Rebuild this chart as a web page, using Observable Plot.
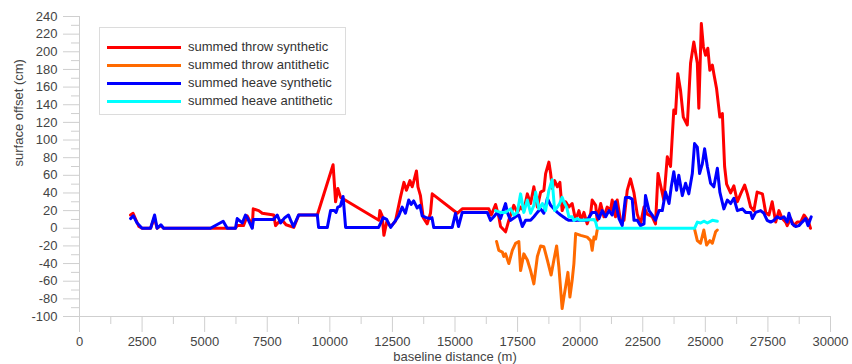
<!DOCTYPE html>
<html>
<head>
<meta charset="utf-8">
<script src="https://cdn.jsdelivr.net/npm/d3@7"></script>
<script src="https://cdn.jsdelivr.net/npm/@observablehq/plot@0.6"></script>
<style>
  html, body { margin: 0; padding: 0; background: #fff; }
  #wrap { position: relative; width: 852px; height: 364px; font-family: "Liberation Sans", Arial, sans-serif; }
  #legend { position: absolute; left: 99px; top: 27px; width: 247px; height: 88px; border: 1px solid #dcdcdc; background: #fff; box-sizing: border-box; }
  .row { position: absolute; left: 0; height: 18px; width: 100%; }
  .sw { position: absolute; left: 7px; top: 8px; width: 74px; height: 3px; }
  .lab { position: absolute; left: 88px; top: 1px; font-size: 13px; color: #333; white-space: nowrap; line-height: 16px; }
</style>
</head>
<body>
<div id="wrap">
  <div id="chart"></div>
  <div id="legend"></div>
</div>
<script>
// ---- data: [baseline distance (m), offset (cm)] ----
const throwSynthetic = [[2040,15],[2140,17],[2370,2],[2500,0],[2840,0],[2990,12],[3100,0],[3250,3],[3360,0],[5700,0],[6230,0],[6300,3],[6550,3],[6700,14],[6850,6],[6900,1],[6940,22],[7160,20],[7300,17],[7760,15],[7830,3],[7960,7],[8100,9],[8250,4],[8560,1],[8760,15],[9500,15],[10130,72],[10230,30],[10320,45],[10430,35],[10490,34],[11960,9],[12000,20],[12090,14],[12160,-8],[12270,7],[12430,2],[12620,8],[12820,35],[12960,52],[13060,43],[13200,54],[13290,47],[13360,54],[13460,65],[13520,47],[13620,37],[13730,12],[13890,5],[14020,17],[14090,39],[15090,17],[15290,22],[16350,22],[16450,15],[16620,27],[16750,13],[16820,2],[17020,-4],[17150,9],[17350,26],[17490,18],[17620,24],[17750,20],[17890,39],[18020,28],[18150,47],[18290,24],[18420,41],[18550,43],[18620,62],[18750,75],[18820,62],[18890,45],[18980,54],[19090,47],[19190,52],[19280,20],[19420,30],[19550,24],[19680,28],[19820,9],[19950,20],[20040,9],[20150,18],[20280,5],[20420,17],[20480,32],[20620,26],[20680,9],[20820,28],[20950,13],[21080,24],[21210,20],[21280,32],[21410,13],[21480,32],[21610,9],[21750,9],[21880,43],[22010,56],[22150,40],[22280,16],[22410,5],[22550,24],[22680,16],[22880,13],[23010,5],[23110,62],[23210,49],[23340,32],[23480,81],[23610,70],[23740,134],[23810,130],[23900,175],[24010,156],[24120,126],[24280,117],[24410,187],[24540,211],[24680,187],[24740,136],[24840,232],[24920,206],[25010,196],[25100,204],[25180,179],[25280,185],[25340,175],[25450,158],[25580,126],[25680,130],[25770,70],[25850,50],[26010,40],[26140,48],[26280,30],[26410,39],[26570,49],[26680,39],[26810,24],[26940,20],[27070,41],[27280,39],[27410,18],[27540,15],[27670,30],[27810,7],[27940,20],[28070,11],[28210,7],[28270,3],[28410,11],[28540,3],[28670,7],[28810,7],[28940,15],[29100,9],[29200,0]];

const throwAntitheticA = [[16660,-15],[16750,-25],[16890,-27],[16950,-32],[17020,-29],[17150,-40],[17290,-25],[17420,-17],[17550,-15],[17620,-48],[17750,-29],[17890,-36],[18020,-48],[18150,-63],[18290,-32],[18420,-20],[18550,-21],[18690,-36],[18840,-53],[18950,-36],[19060,-20],[19150,-44],[19280,-91],[19350,-78],[19420,-66],[19510,-50],[19590,-78],[19680,-59],[19750,-40],[19820,-6],[20020,-8],[20280,-10],[20420,-14],[20480,-25],[20550,-10],[20620,-12],[20680,-2]];
const throwAntitheticB = [[24570,-1],[24680,-14],[24810,-17],[24940,-2],[25050,-19],[25180,-14],[25280,-17],[25410,-4],[25480,-2]];

const heaveSynthetic = [[2040,11],[2150,14],[2300,6],[2500,0],[2840,0],[3000,15],[3100,0],[3250,4],[3360,0],[5230,0],[5740,8],[5900,0],[6230,0],[6300,11],[6500,6],[6630,15],[6700,12],[6900,0],[6950,10],[7750,10],[7900,15],[8030,6],[8200,12],[8350,15],[8450,8],[8550,2],[8750,15],[9500,15],[9550,1],[9900,1],[10030,20],[10180,20],[10250,18],[10320,24],[10420,25],[10530,36],[10630,1],[11950,1],[12130,12],[12270,10],[12430,1],[12630,9],[12750,14],[12890,24],[13020,17],[13150,32],[13250,27],[13350,31],[13490,23],[13600,26],[13690,14],[13850,12],[14020,11],[14080,12],[14150,1],[14890,1],[15020,17],[15140,2],[15290,18],[16290,18],[16420,9],[16550,13],[16690,18],[16820,11],[17020,28],[17090,18],[17220,9],[17420,13],[17550,15],[17690,2],[17820,9],[18020,9],[18150,13],[18290,18],[18420,22],[18550,17],[18690,34],[18820,26],[18950,22],[19090,18],[19220,15],[19420,11],[19550,9],[20280,9],[20480,18],[20620,18],[20750,11],[20880,20],[21020,13],[21150,20],[21280,15],[21410,30],[21550,11],[21680,3],[21810,35],[21950,35],[22080,33],[22150,9],[22280,9],[22410,3],[22550,5],[22610,37],[22750,20],[22880,15],[23010,9],[23150,20],[23280,20],[23410,41],[23550,28],[23640,47],[23740,64],[23850,43],[23940,60],[24080,37],[24210,51],[24340,39],[24480,62],[24570,96],[24680,92],[24770,62],[24880,73],[24970,90],[25080,70],[25210,51],[25340,47],[25480,68],[25580,41],[25740,22],[25880,32],[26010,28],[26140,34],[26280,20],[26480,22],[26610,18],[26810,18],[26880,11],[27010,18],[27210,20],[27340,17],[27470,9],[27610,7],[27740,9],[27870,13],[28010,11],[28140,13],[28270,7],[28340,17],[28470,5],[28610,2],[28740,3],[28870,7],[29010,11],[29100,3],[29230,13]];

const heaveAntithetic = [[16620,20],[16820,18],[17020,18],[17220,22],[17350,15],[17490,18],[17620,39],[17750,18],[17890,32],[18020,17],[18150,26],[18220,41],[18350,22],[18490,28],[18620,20],[18750,43],[18880,55],[18980,20],[19090,24],[19180,28],[19280,35],[19350,30],[19460,24],[19550,13],[19680,13],[19750,9],[19880,11],[20020,9],[20550,10],[20620,7],[20680,0],[24570,0],[24680,7],[24810,6],[24940,8],[25080,6],[25280,9],[25480,8]];

const seriesNames = ["summed throw synthetic","summed throw antithetic","summed heave synthetic","summed heave antithetic"];
const seriesColors = ["#ff0000","#ff6a00","#0000ff","#00ffff"];

const xTicks = d3.range(0, 30001, 2500);
const xMinorTicks = d3.range(1250, 30000, 2500);
const yTicks = d3.range(-100, 241, 20);
const yMinorTicks = d3.range(-90, 240, 20);

const xTitle = "baseline distance (m)";
const yTitle = "surface offset (cm)";

// ---- chart ----
const lineOpts = (color) => ({x: d => d[0], y: d => d[1], stroke: color, strokeWidth: 3, strokeLinejoin: "round", strokeLinecap: "round"});
const axisGray = "#cfcfcf";

const chart = Plot.plot({
  width: 852,
  height: 364,
  marginLeft: 79,
  marginRight: 22,
  marginTop: 16,
  marginBottom: 48,
  x: {domain: [0, 30000]},
  y: {domain: [-100, 240]},
  style: {fontFamily: "'Liberation Sans', Arial, sans-serif", fontSize: "13px", background: "#fff", color: "#444"},
  marks: [
    Plot.axisX(xMinorTicks, {tickSize: 8, text: null, stroke: axisGray, label: null}),
    Plot.axisX(xTicks, {tickSize: 16, tickPadding: 4, stroke: axisGray, fill: "#444", tickFormat: d => String(d), label: null}),
    Plot.axisY(yMinorTicks, {tickSize: 8, text: null, stroke: axisGray, label: null}),
    Plot.axisY(yTicks, {tickSize: 16, tickPadding: 6, stroke: axisGray, fill: "#444", tickFormat: d => String(d), label: null}),
    Plot.ruleX([0], {stroke: axisGray}),
    Plot.ruleY([-100], {stroke: axisGray}),
    Plot.text([xTitle], {frameAnchor: "bottom", dy: 40, lineAnchor: "middle", fill: "#444"}),
    Plot.text([yTitle], {frameAnchor: "left", dx: -61, rotate: -90, lineAnchor: "middle", fill: "#444"}),
    Plot.line(throwSynthetic, lineOpts(seriesColors[0])),
    Plot.line(throwAntitheticA, lineOpts(seriesColors[1])),
    Plot.line(throwAntitheticB, lineOpts(seriesColors[1])),
    Plot.line(heaveSynthetic, lineOpts(seriesColors[2])),
    Plot.line(heaveAntithetic, lineOpts(seriesColors[3]))
  ]
});
document.getElementById("chart").appendChild(chart);

// ---- legend ----
const legend = document.getElementById("legend");
seriesNames.forEach((name, i) => {
  const row = document.createElement("div");
  row.className = "row";
  row.style.top = (10 + i * 18) + "px";
  const sw = document.createElement("div");
  sw.className = "sw";
  sw.style.background = seriesColors[i];
  const lab = document.createElement("div");
  lab.className = "lab";
  lab.textContent = name;
  row.appendChild(sw);
  row.appendChild(lab);
  legend.appendChild(row);
});
</script>
</body>
</html>
